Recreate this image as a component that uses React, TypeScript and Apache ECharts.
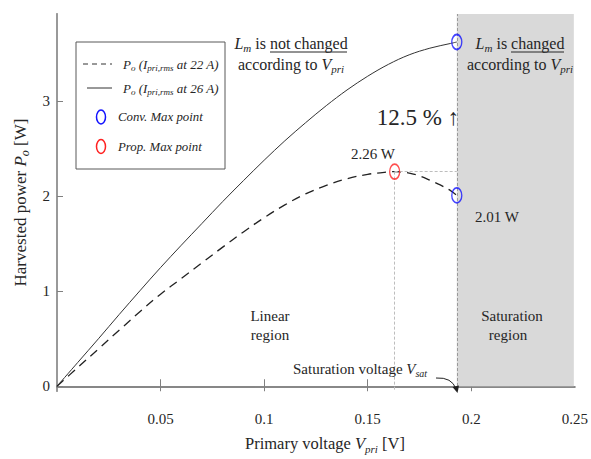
import React, { useEffect, useRef } from "react";
import * as echarts from "echarts";

// ---- data ----
const solidV = [0, 0.01, 0.02, 0.03, 0.04, 0.05, 0.06, 0.07, 0.08, 0.09, 0.1, 0.11, 0.12, 0.13, 0.14, 0.15, 0.16, 0.17, 0.18, 0.19, 0.193];
const solidP = [0, 0.25, 0.5, 0.755, 1.005, 1.25, 1.485, 1.715, 1.945, 2.165, 2.38, 2.585, 2.775, 2.955, 3.12, 3.265, 3.39, 3.49, 3.56, 3.61, 3.625];
const dashedV = [0, 0.01, 0.02, 0.03, 0.04, 0.05, 0.06, 0.07, 0.08, 0.09, 0.1, 0.11, 0.12, 0.13, 0.14, 0.15, 0.16, 0.163, 0.17, 0.175, 0.18, 0.185, 0.19, 0.193];
const dashedP = [0, 0.197, 0.393, 0.59, 0.785, 0.97, 1.135, 1.3, 1.465, 1.625, 1.775, 1.91, 2.025, 2.115, 2.185, 2.232, 2.257, 2.26, 2.245, 2.215, 2.17, 2.12, 2.06, 2.01];
const convV = [0.193, 0.193];
const convP = [3.625, 2.01];
const propV = [0.163];
const propP = [2.26];
const VSAT = 0.193;
const xTicks = [0.05, 0.1, 0.15, 0.2, 0.25];
const yTicks = [0, 1, 2, 3];
const X_MIN = 0, X_MAX = 0.25, Y_MIN = -0.05, Y_MAX = 3.92;

const SERIF = '"Liberation Serif", "Times New Roman", serif';
const TXT = "#262626";
const AXIS = "#808080";
const ELLIPSE = "path://M0,1A1,1,0,1,1,2,1A1,1,0,1,1,0,1Z";

function rich(size: number, italicAll = false, subPad?: number) {
  const sub = Math.round(size * 0.68);
  const pad = subPad ?? Math.round(size * 0.55);
  const base = { fontFamily: SERIF, fontSize: size, color: TXT, fill: TXT };
  return {
    n: { ...base, fontStyle: italicAll ? "italic" : "normal" },
    i: { ...base, fontStyle: "italic" },
    s: { ...base, fontSize: sub, fontStyle: "italic", padding: [pad, 0, 0, 0] },
  };
}

function gText(x: number, y: number, text: string, size: number, align = "center", italicAll = false) {
  return {
    type: "text",
    x,
    y,
    z: 100,
    style: {
      text,
      rich: rich(size, italicAll),
      align,
      verticalAlign: "middle",
      fill: TXT,
      fontFamily: SERIF,
      fontSize: size,
    },
  };
}

export default function App() {
  const ref = useRef<HTMLDivElement>(null);
  useEffect(() => {
    const chart = echarts.init(ref.current!, null, { renderer: "svg" });
    const solid = solidV.map((v, k) => [v, solidP[k]]);
    const dashed = dashedV.map((v, k) => [v, dashedP[k]]);
    const conv = convV.map((v, k) => [v, convP[k]]);
    const prop = propV.map((v, k) => [v, propP[k]]);

    const legendX = 76, legendY = 42;
    const graphic: any[] = [
      {
        type: "rect",
        z: 90,
        shape: { x: legendX, y: legendY, width: 149, height: 127 },
        style: { fill: "#fff", stroke: "#595959", lineWidth: 1 },
      },
      { type: "line", z: 100, shape: { x1: 83, y1: 64, x2: 112, y2: 64 }, style: { stroke: "#333", lineWidth: 1, lineDash: [5, 4] } },
      gText(123, 64, "{i|P}{s|o}{i| (I}{s|pri,rms}{i| at 22 A)}", 13, "left", true),
      { type: "line", z: 100, shape: { x1: 87, y1: 88, x2: 112, y2: 88 }, style: { stroke: "#333", lineWidth: 1 } },
      gText(123, 88, "{i|P}{s|o}{i| (I}{s|pri,rms}{i| at 26 A)}", 13, "left", true),
      { type: "ellipse", z: 100, shape: { cx: 101, cy: 117, rx: 4.5, ry: 7 }, style: { fill: "none", stroke: "#1414ff", lineWidth: 1.5 } },
      gText(118, 117, "{i|Conv. Max point}", 12.8, "left", true),
      { type: "ellipse", z: 100, shape: { cx: 101, cy: 146.5, rx: 4.5, ry: 7 }, style: { fill: "none", stroke: "#ff2222", lineWidth: 1.5 } },
      gText(118, 146.5, "{i|Prop. Max point}", 12.8, "left", true),

      gText(291, 43, "{i|L}{s|m}{n| is not changed}", 16),
      { type: "line", z: 100, shape: { x1: 270, y1: 52, x2: 347, y2: 52 }, style: { stroke: TXT, lineWidth: 1 } },
      gText(291, 64, "{n|according to }{i|V}{s|pri}", 16),
      gText(520, 43, "{i|L}{s|m}{n| is changed}", 16),
      { type: "line", z: 100, shape: { x1: 511, y1: 52, x2: 564, y2: 52 }, style: { stroke: TXT, lineWidth: 1 } },
      gText(520, 64, "{n|according to }{i|V}{s|pri}", 16),

      gText(418, 117, "{n|12.5 % ↑}", 23),
      gText(373, 154, "{n|2.26 W}", 15),
      gText(497, 217, "{n|2.01 W}", 15),

      gText(270, 316, "{n|Linear}", 15),
      gText(270, 335, "{n|region}", 15),
      gText(512, 316, "{n|Saturation}", 15),
      gText(508, 335, "{n|region}", 15),

      gText(293, 369, "{n|Saturation voltage }{i|V}{s|sat}", 15, "left"),
      {
        type: "bezierCurve",
        z: 100,
        shape: { x1: 436, y1: 378, x2: 456, y2: 389, cpx1: 452, cpy1: 377 },
        style: { stroke: "#222", lineWidth: 1, fill: "none" },
      },
      {
        type: "polygon",
        z: 100,
        shape: { points: [[452.5, 387], [459, 385.5], [457.5, 393]] },
        style: { fill: "#222" },
      },
    ];

    const axisName = (size: number, padding: number[]) => ({
      rich: rich(size, false, 10),
      fontFamily: SERIF,
      fontSize: size,
      color: TXT,
      padding,
    });

    chart.setOption({
      animation: false,
      backgroundColor: "#fff",
      grid: { left: 57, right: 13, top: 14, bottom: 65, containLabel: false },
      xAxis: [
        {
          type: "value",
          min: X_MIN,
          max: X_MAX,
          interval: 0.05,
          position: "bottom",
          name: "{n|Primary voltage }{i|V}{s|pri}{n| [V]}",
          nameLocation: "middle",
          nameGap: 42,
          nameTextStyle: axisName(16.5, [0, 0, 0, 18]),
          axisLine: { show: true, lineStyle: { color: AXIS, width: 1.5 } },
          axisTick: { show: true, inside: true, length: 7, customValues: xTicks.slice(0, 4), lineStyle: { color: AXIS } },
          axisLabel: { customValues: xTicks, margin: 20, fontSize: 15, fontFamily: SERIF, color: TXT, formatter: (v: number) => String(v) },
          splitLine: { show: false },
        },
        {
          type: "value",
          min: X_MIN,
          max: X_MAX,
          interval: 0.05,
          position: "top",
          axisLine: { show: true, lineStyle: { color: AXIS, width: 1.5 } },
          axisTick: { show: true, inside: true, length: 5, customValues: xTicks.slice(0, 4), lineStyle: { color: AXIS } },
          axisLabel: { show: false },
          splitLine: { show: false },
        },
      ],
      yAxis: [
        {
          type: "value",
          min: Y_MIN,
          max: Y_MAX,
          position: "left",
          name: "{n|Harvested power }{i|P}{s|o}{n| [W]}",
          nameLocation: "middle",
          nameGap: 26,
          nameRotate: 90,
          nameTextStyle: axisName(17, [0, 0, 0, 0]),
          axisLine: { show: true, lineStyle: { color: AXIS, width: 1.5 } },
          axisTick: { show: true, inside: true, length: 6, customValues: yTicks, lineStyle: { color: AXIS } },
          axisLabel: { customValues: yTicks, margin: 7, fontSize: 15, fontFamily: SERIF, color: TXT },
          splitLine: { show: false },
        },
        {
          type: "value",
          min: Y_MIN,
          max: Y_MAX,
          position: "right",
          axisLine: { show: true, lineStyle: { color: "#999", width: 2 } },
          axisTick: { show: false },
          axisLabel: { show: false },
          splitLine: { show: false },
        },
      ],
      series: [
        {
          name: "26 A",
          type: "line",
          data: solid,
          symbol: "none",
          smooth: 0.35,
          lineStyle: { color: "#333", width: 1 },
          z: 3,
          markArea: {
            silent: true,
            itemStyle: { color: "#d9d9d9" },
            data: [[{ xAxis: VSAT, yAxis: 0 }, { xAxis: 0.2495, yAxis: Y_MAX }]],
          },
        },
        {
          name: "22 A",
          type: "line",
          data: dashed,
          symbol: "none",
          smooth: 0.35,
          lineStyle: { color: "#222", width: 1.3, type: [9, 6] },
          z: 3,
          markLine: {
            silent: true,
            symbol: ["none", "none"],
            label: { show: false },
            data: [
              [
                { coord: [VSAT, Y_MIN], lineStyle: { color: "#9a9a9a", type: [3, 2], width: 1 } },
                { coord: [VSAT, Y_MAX] },
              ],
              [
                { coord: [propV[0], propP[0]], lineStyle: { color: "#bdbdbd", type: [3, 2], width: 1 } },
                { coord: [VSAT, propP[0]] },
              ],
              [
                { coord: [propV[0], propP[0]], lineStyle: { color: "#bdbdbd", type: [3, 2], width: 1 } },
                { coord: [propV[0], Y_MIN] },
              ],
            ],
          },
        },
        {
          name: "Conv. Max point",
          type: "scatter",
          data: conv,
          symbol: ELLIPSE,
          symbolSize: [10, 15],
          itemStyle: { color: "rgba(0,0,0,0)", borderColor: "#1414ff", borderWidth: 1.6 },
          z: 5,
        },
        {
          name: "Prop. Max point",
          type: "scatter",
          data: prop,
          symbol: ELLIPSE,
          symbolSize: [10, 15],
          itemStyle: { color: "rgba(0,0,0,0)", borderColor: "#ff2222", borderWidth: 1.6 },
          z: 5,
        },
      ],
      graphic,
    });
    return () => chart.dispose();
  }, []);
  return <div ref={ref} style={{ position: "fixed", left: 0, top: 0, width: 591, height: 459 }} />;
}
